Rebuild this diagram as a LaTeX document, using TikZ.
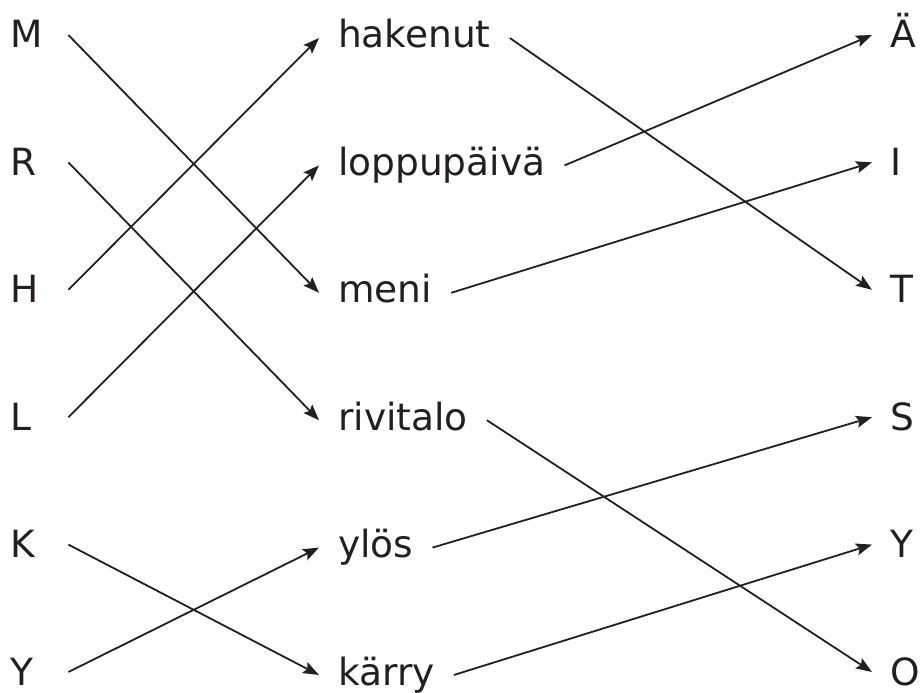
\documentclass[tikz,border=0pt]{standalone}
\usepackage{fontspec}
\setmainfont{DejaVu Sans}
\usetikzlibrary{arrows.meta}
\definecolor{ink}{HTML}{231F20}
\begin{document}
\begin{tikzpicture}[x=1pt,y=-1pt,
  every node/.style={font=\fontsize{37.5}{45}\selectfont, text=ink, inner ysep=0pt},
  lft/.style={anchor=west, inner xsep=0pt, text width=58pt, align=left, text height=26pt, text depth=0pt},
  mid/.style={anchor=west, inner xsep=19pt, text height=20pt, text depth=0pt},
  rgt/.style={anchor=west, inner xsep=18pt, text height=26pt, text depth=0pt},
  link/.style={draw=ink, line width=1.8pt, -{Stealth[length=16pt,width=12pt,inset=3pt]}}]
\useasboundingbox (0,0) rectangle (922,693);
% left column
\node[lft] (M) at (10,35) {M};
\node[lft] (R) at (10,162.4) {R};
\node[lft] (H) at (10,289.8) {H};
\node[lft] (L) at (10,417.2) {L};
\node[lft] (K) at (10,544.6) {K};
\node[lft] (Yl) at (10,672) {Y};
% middle column
\node[mid] (hak) at (319,38) {hakenut};
\node[mid] (lop) at (319,165.4) {loppupäivä};
\node[mid] (men) at (319,292.8) {meni};
\node[mid] (riv) at (319,420.2) {rivitalo};
\node[mid] (ylo) at (319,547.6) {ylös};
\node[mid] (kar) at (319,675) {kärry};
% right column
\node[rgt] (AE) at (872,35) {Ä};
\node[rgt] (I) at (872,162.4) {I};
\node[rgt] (T) at (872,289.8) {T};
\node[rgt] (S) at (872,417.2) {S};
\node[rgt] (Yr) at (872,544.6) {Y};
\node[rgt] (O) at (872,672) {O};
% left connectors
\draw[link] (M.east) -- (men.west);
\draw[link] (R.east) -- (riv.west);
\draw[link] (H.east) -- (hak.west);
\draw[link] (L.east) -- (lop.west);
\draw[link] (K.east) -- (kar.west);
\draw[link] (Yl.east) -- (ylo.west);
% right connectors
\draw[link] (hak.east) -- (T.west);
\draw[link] (lop.east) -- (AE.west);
\draw[link] (men.east) -- (I.west);
\draw[link] (riv.east) -- (O.west);
\draw[link] (ylo.east) -- (S.west);
\draw[link] (kar.east) -- (Yr.west);
\end{tikzpicture}
\end{document}
